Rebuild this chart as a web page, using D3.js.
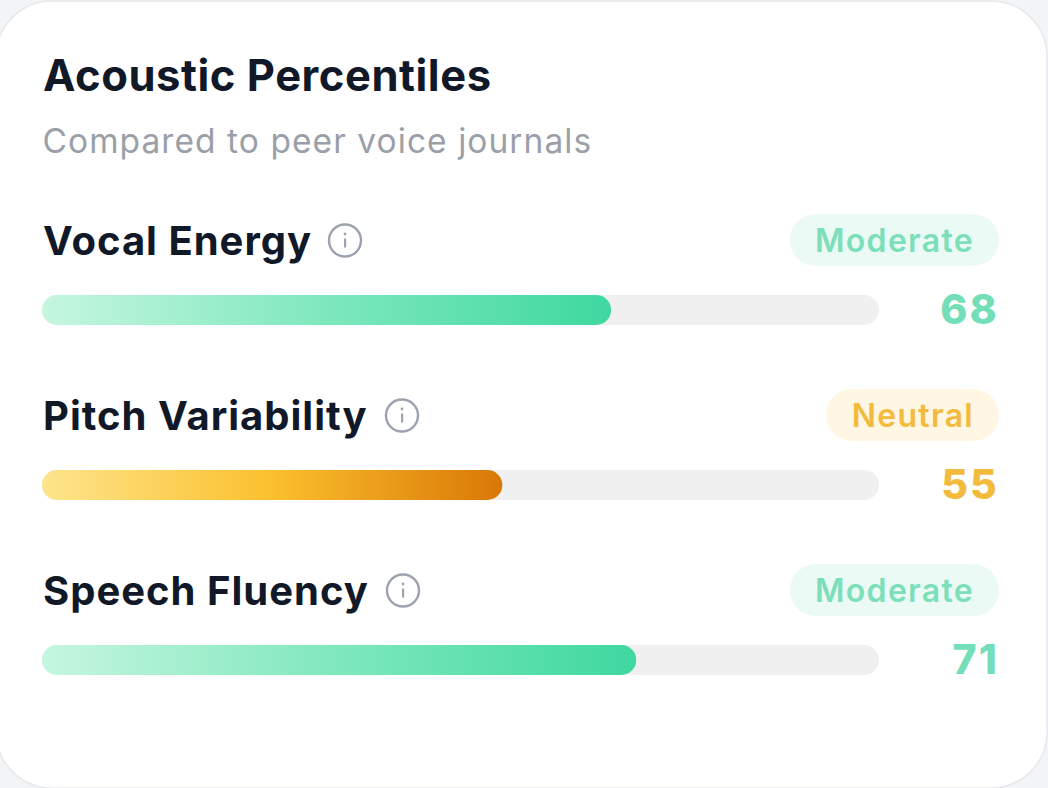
<!DOCTYPE html>
<html><head><meta charset="utf-8">
<script src="https://cdn.jsdelivr.net/npm/d3@7"></script>
<style>html,body{margin:0;padding:0;background:#f3f4f6;overflow:hidden}svg{display:block}text{font-family:Inter,"Noto Sans",sans-serif}</style>
</head><body><div id="chart"></div>
<script>
const title = "Acoustic Percentiles";
const subtitle = "Compared to peer voice journals";
const categories = ["Vocal Energy", "Pitch Variability", "Speech Fluency"];
const values = [68, 55, 71];
const statuses = ["Moderate", "Neutral", "Moderate"];
const iconX = [345, 402, 403];
const badgeLeft = [790, 826, 790];
const palettes = {
  Moderate: {stops:["#c6f6df","#7ee8bd","#3fd8a0"], text:"#7ddfba", pill:"#ebfaf4", num:"#74deb8"},
  Neutral: {stops:["#fde58c","#fbc02d","#d97706"], text:"#f3bb3d", pill:"#fff6e3", num:"#f3bb3d"}
};
const W = 1048, H = 788;
const svg = d3.select("#chart").append("svg").attr("width",W).attr("height",H);
const x = d3.scaleLinear().domain([0,100]).range([42,879]);
const y = d3.scalePoint().domain(categories).range([240,590]);
const barH = 30;
const defs = svg.append("defs");
svg.append("rect").attr("x",-4).attr("y",1).attr("width",W+3).attr("height",H-1).attr("rx",56)
  .attr("fill","#fff").attr("stroke","#e6e8eb").attr("stroke-width",1.5);
svg.append("text").attr("x",43).attr("y",91).attr("font-size",43.5).attr("font-weight",700).attr("letter-spacing",0.55).attr("fill","#111827").text(title);
svg.append("text").attr("x",42.5).attr("y",153).attr("font-size",33.5).attr("font-weight",400).attr("letter-spacing",1.06).attr("fill","#9a9fa8").text(subtitle);

categories.forEach((c,i)=>{
  const p = palettes[statuses[i]], cy = y(c), v = values[i];
  const g = svg.append("g");
  g.append("text").attr("x",43).attr("y",cy+15).attr("font-size",40).attr("font-weight",700).attr("letter-spacing",1).attr("fill","#111827").text(c);
  const ic = g.append("g").attr("transform",`translate(${iconX[i]},${cy+0.5})`);
  ic.append("circle").attr("r",16).attr("fill","none").attr("stroke","#9ca3af").attr("stroke-width",2.4);
  ic.append("rect").attr("x",-1).attr("y",-2).attr("width",2.2).attr("height",9).attr("fill","#9ca3af");
  ic.append("circle").attr("cy",-6.5).attr("r",1.4).attr("fill","#9ca3af");
  g.append("rect").attr("x",badgeLeft[i]).attr("y",cy-26).attr("width",999-badgeLeft[i]).attr("height",52).attr("rx",26).attr("fill",p.pill);
  g.append("text").attr("x",974).attr("y",cy+11.5).attr("text-anchor","end").attr("font-size",32).attr("font-weight",600).attr("letter-spacing",1.3).attr("fill",p.text).text(statuses[i]);
  const by = cy+55;
  g.append("rect").attr("x",x(0)).attr("y",by).attr("width",x(100)-x(0)).attr("height",barH).attr("rx",15).attr("fill","#f0f0f0");
  const id = "grad"+i;
  const gr = defs.append("linearGradient").attr("id",id);
  p.stops.forEach((s,k)=>gr.append("stop").attr("offset",k/(p.stops.length-1)).attr("stop-color",s));
  g.append("rect").attr("x",x(0)).attr("y",by).attr("width",x(v)-x(0)).attr("height",barH).attr("rx",15).attr("fill",`url(#${id})`);
  g.append("text").attr("x",999).attr("y",by+29).attr("text-anchor","end").attr("font-size",41).attr("font-weight",800).attr("letter-spacing",2.2).attr("fill",p.num).text(v);
});
</script></body></html>
